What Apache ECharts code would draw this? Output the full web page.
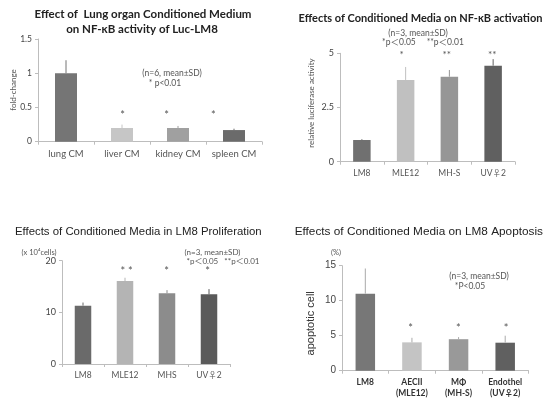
<!DOCTYPE html>
<html><head><meta charset="utf-8">
<script src="https://cdn.jsdelivr.net/npm/echarts@6/dist/echarts.min.js"></script>
<style>html,body{margin:0;padding:0;background:#fff}#c{width:556px;height:405px}</style>
</head><body><div id="c"></div>
<script>
// Panel 1: Lung organ CM on NF-kB
const p1Cats = ['lung CM', 'liver CM', 'kidney CM', 'spleen CM'];
const p1Mean = [1.0, 0.2, 0.2, 0.17];
const p1SD = [0.19, 0.05, 0.03, 0.02];
const p1Ticks = [0, 0.5, 1, 1.5];
// Panel 2: NF-kB activation
const p2Cats = ['LM8', 'MLE12', 'MH-S', 'UV\u26402'];
const p2Mean = [1.0, 3.77, 3.92, 4.43];
const p2SD = [0.04, 0.6, 0.31, 0.3];
const p2Ticks = [0, 2.5, 5];
// Panel 3: LM8 proliferation
const p3Cats = ['LM8', 'MLE12', 'MHS', 'UV\u26402'];
const p3Mean = [11.3, 16.05, 13.7, 13.5];
const p3SD = [0.6, 0.65, 0.6, 1.0];
const p3Ticks = [0, 10, 20];
// Panel 4: LM8 apoptosis
const p4Cats = ['LM8', 'AECII\n(MLE12)', 'M\u03a6\n(MH-S)', 'Endothel\n(UV\u26402)'];
const p4Mean = [11.0, 4.05, 4.5, 4.0];
const p4SD = [3.6, 0.65, 0.3, 1.0];
const p4Ticks = [0, 5, 10, 15];

const colors1 = ['#757575', '#c6c6c6', '#a0a0a0', '#6b6b6b'];
const colors2 = ['#707070', '#c0c0c0', '#969696', '#606060'];
const colors3 = ['#6a6a6a', '#b4b4b4', '#8c8c8c', '#5a5a5a'];
const colors4 = ['#777777', '#c4c4c4', '#999999', '#606060'];

const AX = '#bdbdbd', TXT = '#555';
const F = 'Lato, "Noto Sans CJK JP", sans-serif';
const ARIAL = '"Liberation Sans", "Noto Sans CJK JP", sans-serif';

const grids = [
  {left: 38, top: 39, width: 224, height: 102.7},
  {left: 340, top: 53.3, width: 175, height: 108.4},
  {left: 62, top: 260.7, width: 168, height: 103.3},
  {left: 342, top: 265.7, width: 186.5, height: 105}
];

function xAx(i, cats, fs, extra) {
  return Object.assign({
    type: 'category', gridIndex: i, data: cats,
    axisLine: {lineStyle: {color: AX}},
    axisTick: {show: true, length: 3, lineStyle: {color: AX}},
    axisLabel: {color: TXT, fontSize: fs, fontFamily: F, margin: 7, interval: 0}
  }, extra || {});
}
function yAx(i, ticks, fs, fam) {
  return {
    type: 'value', gridIndex: i, min: ticks[0], max: ticks[ticks.length - 1],
    interval: ticks[1] - ticks[0],
    axisLine: {show: true, lineStyle: {color: AX}},
    axisTick: {show: true, length: 3, lineStyle: {color: AX}},
    splitLine: {show: false},
    axisLabel: {color: '#444', fontSize: fs, fontFamily: fam || F, margin: 6}
  };
}
function bars(i, vals, cols, bw) {
  return {
    type: 'bar', xAxisIndex: i, yAxisIndex: i, barWidth: bw, silent: true,
    data: vals.map((v, k) => ({value: v, itemStyle: {color: cols[k]}}))
  };
}
function errs(i, vals, sds, cols) {
  return {
    type: 'custom', xAxisIndex: i, yAxisIndex: i, silent: true, z: 3,
    data: vals.map((v, k) => [k, v, v + sds[k], k]),
    renderItem: function (p, api) {
      const a = api.coord([api.value(0), api.value(1)]);
      const b = api.coord([api.value(0), api.value(2)]);
      return {type: 'line', shape: {x1: a[0], y1: a[1], x2: b[0], y2: b[1]},
        style: {stroke: cols[api.value(3)], lineWidth: 1}};
    }
  };
}
function txt(x, y, s, fs, opts) {
  return {type: 'text', x: x, y: y,
    style: Object.assign({text: s, fill: '#555', fontSize: fs, fontFamily: F, textAlign: 'center', textVerticalAlign: 'middle'}, (opts || {}))};
}

const chart = echarts.init(document.getElementById('c'), null, {renderer: 'canvas'});
chart.setOption({
  animation: false,
  backgroundColor: '#fff',
  grid: grids,
  xAxis: [
    xAx(0, p1Cats, 9.5),
    xAx(1, p2Cats, 8.5),
    xAx(2, p3Cats, 8.5),
    xAx(3, p4Cats, 8.5, {axisLabel: {color: '#333', fontSize: 8.5, fontWeight: 'bold', fontFamily: F, margin: 6, interval: 0, lineHeight: 11}})
  ],
  yAxis: [
    yAx(0, p1Ticks, 8.5),
    yAx(1, p2Ticks, 9),
    yAx(2, p3Ticks, 9),
    yAx(3, p4Ticks, 10, ARIAL)
  ],
  series: [
    bars(0, p1Mean, colors1, 22), errs(0, p1Mean, p1SD, colors1),
    bars(1, p2Mean, colors2, 17.5), errs(1, p2Mean, p2SD, colors2),
    bars(2, p3Mean, colors3, 16.5), errs(2, p3Mean, p3SD, colors3),
    bars(3, p4Mean, colors4, 19.5), errs(3, p4Mean, p4SD, ['#aaaaaa', '#aaaaaa', '#aaaaaa', '#aaaaaa'])
  ],
  graphic: [
    // titles
    txt(143, 14, 'Effect of  Lung organ Conditioned Medium', 11.5, {fill: '#222', fontWeight: 'bold'}),
    txt(142, 29.3, 'on NF-\u03baB activity of Luc-LM8', 11.5, {fill: '#222', fontWeight: 'bold'}),
    txt(420.5, 18.3, 'Effects of Conditioned Media on NF-\u03baB activation', 11, {fill: '#222', fontWeight: 'bold'}),
    txt(138.3, 232.3, 'Effects of Conditioned Media in LM8 Proliferation', 11.4, {fill: '#222', fontFamily: ARIAL}),
    txt(418.8, 231.7, 'Effects of Conditioned Media on LM8 Apoptosis', 11.8, {fill: '#222', fontFamily: ARIAL}),
    // axis names
    {type: 'text', x: 13.3, y: 90, rotation: Math.PI / 2, style: {text: 'fold-change', fill: '#555', fontSize: 8, fontFamily: F, textAlign: 'center', textVerticalAlign: 'middle'}},
    {type: 'text', x: 311.3, y: 103, rotation: Math.PI / 2, style: {text: 'relative luciferase activity', fill: '#555', fontSize: 8, fontFamily: F, textAlign: 'center', textVerticalAlign: 'middle'}},
    {type: 'text', x: 311.3, y: 323.3, rotation: Math.PI / 2, style: {text: 'apoptotic cell', fill: '#333', fontSize: 11, fontFamily: ARIAL, textAlign: 'center', textVerticalAlign: 'middle'}},
    txt(39, 252.3, '(x 10\u2074cells)', 7.5),
    txt(336, 252.3, '(%)', 7.5),
    // annotations
    txt(172, 73.3, '(n=6, mean\u00b1SD)', 8.5),
    txt(165, 83.3, '* p<0.01', 8.5),
    txt(418, 33.3, '(n=3, mean\u00b1SD)', 8.5),
    txt(423, 42.3, '*p\uff1c0.05     **p\uff1c0.01', 8.5),
    txt(212.5, 252.3, '(n=3, mean\u00b1SD)', 8),
    txt(223, 261, '*p\uff1c0.05   **p\uff1c0.01', 8),
    txt(479, 276.7, '(n=3, mean\u00b1SD)', 8.5),
    txt(470, 286.7, '*P<0.05', 8.5),
    // significance stars
    txt(122.7, 115, '*', 11), txt(166.7, 115, '*', 11), txt(213.3, 115, '*', 11),
    txt(401.7, 54.5, '*', 10), txt(446.7, 54.5, '**', 10), txt(492.3, 54.5, '**', 10),
    txt(126.7, 271.5, '* *', 11), txt(166.7, 271.5, '*', 11), txt(207.7, 271.5, '*', 11),
    txt(410.7, 328.5, '*', 11), txt(458.3, 328.5, '*', 11), txt(506, 328.5, '*', 11)
  ]
});
</script></body></html>
